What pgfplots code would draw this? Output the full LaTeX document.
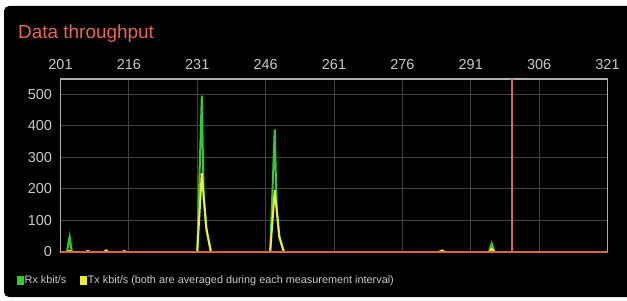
\documentclass[border=0pt]{standalone}
\usepackage{fontspec}
\setmainfont{Liberation Sans}
\usepackage{pgfplots}
\pgfplotsset{compat=1.18}
\definecolor{rxgreen}{RGB}{45,205,45}
\definecolor{txyellow}{RGB}{238,238,45}
\definecolor{redline}{RGB}{222,100,70}
\definecolor{titlered}{RGB}{232,104,78}
\definecolor{gridc}{RGB}{66,66,66}
\definecolor{framec}{RGB}{175,175,175}
\definecolor{ticktext}{RGB}{200,200,200}
\begin{document}
\begin{tikzpicture}[x=1bp,y=1bp]
\useasboundingbox (0,0) rectangle (627,300);
\fill[white] (0,0) rectangle (627,300);
\begin{scope}
\clip (0,0) rectangle (627,300);
\fill[black, rounded corners=5bp] (4,3) rectangle (640,294);
\end{scope}
\node[anchor=base west, text=titlered, font=\fontsize{19}{22}\selectfont, inner sep=0] at (18,262) {Data throughput};
\begin{axis}[
  at={(60.5bp,48bp)}, anchor=south west,
  scale only axis, width=547bp, height=173bp,
  xmin=201, xmax=321, ymin=0, ymax=548,
  xtick={201,216,...,321}, ytick={0,100,...,500},
  xticklabel pos=top,
  major tick length=0pt,
  grid=major,
  grid style={color=gridc, line width=0.8bp},
  axis line style={color=framec, line width=1.2bp},
  tick label style={text=ticktext, font=\fontsize{14.5}{16}\selectfont},
  /pgf/number format/assume math mode=true,
  xticklabel style={yshift=6bp},
  yticklabel style={xshift=-5bp},
  legend columns=2,
  legend style={at={(-0.0795,-0.162)}, anchor=west, draw=none, fill=none,
    text=ticktext, font=\fontsize{10.9}{13}\selectfont, inner sep=0pt,
    nodes={inner sep=1bp, anchor=west},
    /tikz/every even column/.append style={column sep=13bp}},
  legend image code/.code={\fill[#1, line width=0pt] (0bp,-4bp) rectangle (6.5bp,4bp);},
]
\addplot[color=rxgreen, line width=2bp] coordinates {
(201,0) (202.4,0) (203,48) (203.5,0) (231,0) (232,495) (232.4,170) (233,70) (234,0)
(247,0) (248,388) (248.4,140) (249,45) (250,0) (295,0) (295.6,27) (296.2,0) (300,0)};
\addlegendentry{Rx kbit/s}
\addplot[color=txyellow, line width=2bp] coordinates {
(201,0) (202.5,0) (203,4) (203.5,0) (206.5,0) (207,3) (207.5,0) (210.5,0) (211,5) (211.5,0)
(214.5,0) (215,3) (215.5,0) (231,0) (232,250) (233,75) (234,0) (247,0) (248,196) (249,50) (250,0)
(284,0) (284.7,5) (285.4,0) (295,0) (295.6,10) (296.2,0) (300,0)};
\addlegendentry{Tx kbit/s (both are averaged during each measurement interval)}
\draw[redline, line width=1.3bp] (axis cs:201,0) -- (axis cs:321,0);
\draw[redline, line width=1.6bp] (axis cs:300,0) -- (axis cs:300,548);
\end{axis}
\end{tikzpicture}
\end{document}
